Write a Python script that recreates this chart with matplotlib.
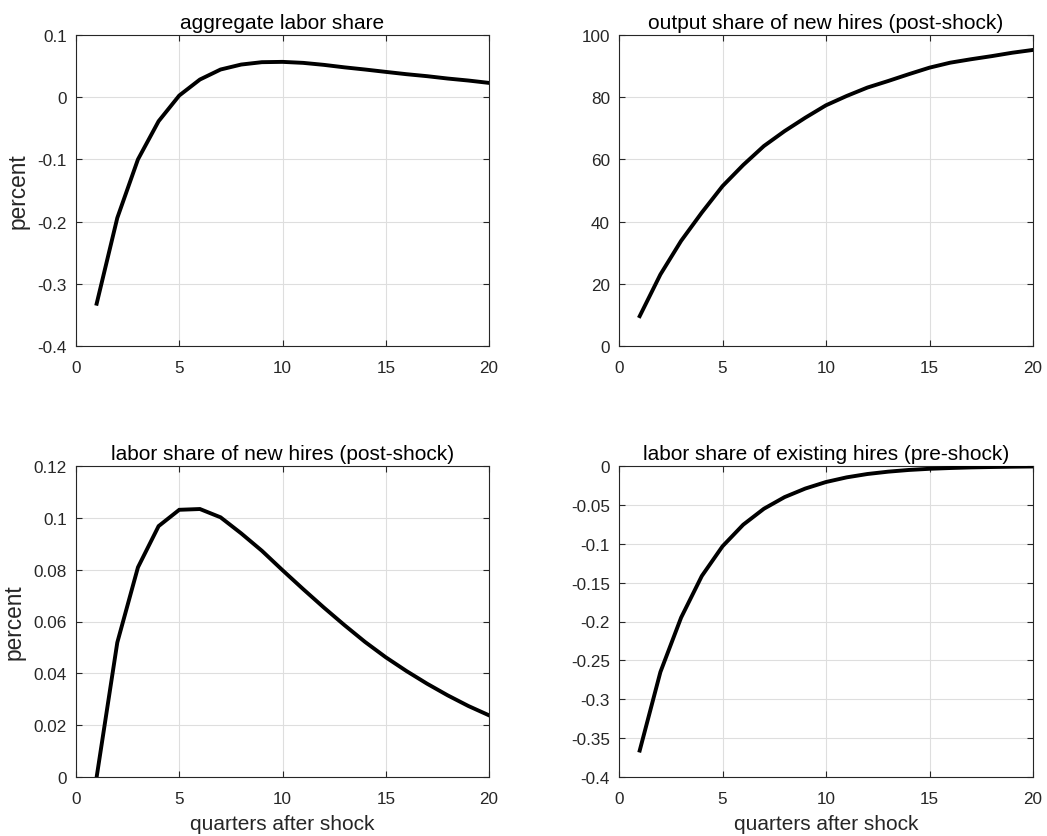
import matplotlib
matplotlib.use("Agg")
import matplotlib.pyplot as plt
import numpy as np

quarters = list(range(1, 21))

aggregate_labor_share = [-0.332, -0.194, -0.100, -0.0386, 0.0027, 0.0284, 0.0445, 0.0525,
                         0.0563, 0.0568, 0.0552, 0.0520, 0.0480, 0.0445, 0.0407, 0.0370,
                         0.0338, 0.0300, 0.0268, 0.0230]
output_share_new = [9.6, 23.0, 33.8, 42.9, 51.4, 58.2, 64.3, 69.1, 73.4, 77.4,
                    80.4, 83.1, 85.2, 87.4, 89.5, 91.1, 92.2, 93.2, 94.3, 95.2]
labor_share_new = [0.0, 0.0519, 0.0809, 0.0968, 0.1031, 0.1034, 0.1002, 0.0940, 0.0873,
                   0.0798, 0.0725, 0.0654, 0.0586, 0.0521, 0.0462, 0.0409, 0.0360,
                   0.0315, 0.0274, 0.0238]
labor_share_existing = [-0.366, -0.265, -0.195, -0.1415, -0.1033, -0.0755, -0.055, -0.040,
                        -0.029, -0.0206, -0.0146, -0.0103, -0.0073, -0.0051, -0.0036,
                        -0.0026, -0.0018, -0.0013, -0.0009, -0.0006]

titles = ["aggregate labor share", "output share of new hires (post-shock)",
          "labor share of new hires (post-shock)", "labor share of existing hires (pre-shock)"]
series = [aggregate_labor_share, output_share_new, labor_share_new, labor_share_existing]
ylims = [(-0.4, 0.1), (0, 100), (0, 0.12), (-0.4, 0)]
yticks = [[-0.4, -0.3, -0.2, -0.1, 0, 0.1],
          [0, 20, 40, 60, 80, 100],
          [0, 0.02, 0.04, 0.06, 0.08, 0.1, 0.12],
          [-0.4, -0.35, -0.3, -0.25, -0.2, -0.15, -0.1, -0.05, 0]]
yticklabels = [["-0.4", "-0.3", "-0.2", "-0.1", "0", "0.1"],
               ["0", "20", "40", "60", "80", "100"],
               ["0", "0.02", "0.04", "0.06", "0.08", "0.1", "0.12"],
               ["-0.4", "-0.35", "-0.3", "-0.25", "-0.2", "-0.15", "-0.1", "-0.05", "0"]]
xticks = [0, 5, 10, 15, 20]

plt.rcParams['font.family'] = ['Liberation Sans', 'DejaVu Sans']
W, H = 1047, 837
fig = plt.figure(figsize=(W / 100, H / 100), dpi=100)

boxes = [(76, 36, 489, 347), (619, 36, 1033, 347), (76, 467, 489, 778), (619, 467, 1033, 778)]
dark = (0.15, 0.15, 0.15)
for i, (l, t, r, b) in enumerate(boxes):
    ax = fig.add_axes([l / W, 1 - b / H, (r - l) / W, (b - t) / H])
    ax.plot(quarters, series[i], color='black', lw=2.8, solid_joinstyle='miter', zorder=3)
    ax.set_xlim(0, 20)
    ax.set_ylim(*ylims[i])
    ax.set_xticks(xticks)
    ax.set_xticklabels([str(v) for v in xticks])
    ax.set_yticks(yticks[i])
    ax.set_yticklabels(yticklabels[i])
    ax.grid(True, color=(0.87, 0.87, 0.87), lw=0.8)
    ax.set_axisbelow(True)
    ax.tick_params(direction='in', length=4, width=0.8, colors=dark, labelsize=12.3,
                   top=True, right=True, labelcolor=dark)
    ax.tick_params(axis='x', pad=10)
    ax.tick_params(axis='y', pad=6.5)
    for s in ax.spines.values():
        s.set_color(dark)
        s.set_linewidth(0.8)
    ax.set_title(titles[i], fontsize=15, color='black', pad=5)
    if i % 2 == 0:
        ax.set_ylabel("percent", fontsize=16.3, color=dark, labelpad=6)
    if i >= 2:
        ax.set_xlabel("quarters after shock", fontsize=15, color=dark, labelpad=6)

fig.savefig("out.png", dpi=100)
